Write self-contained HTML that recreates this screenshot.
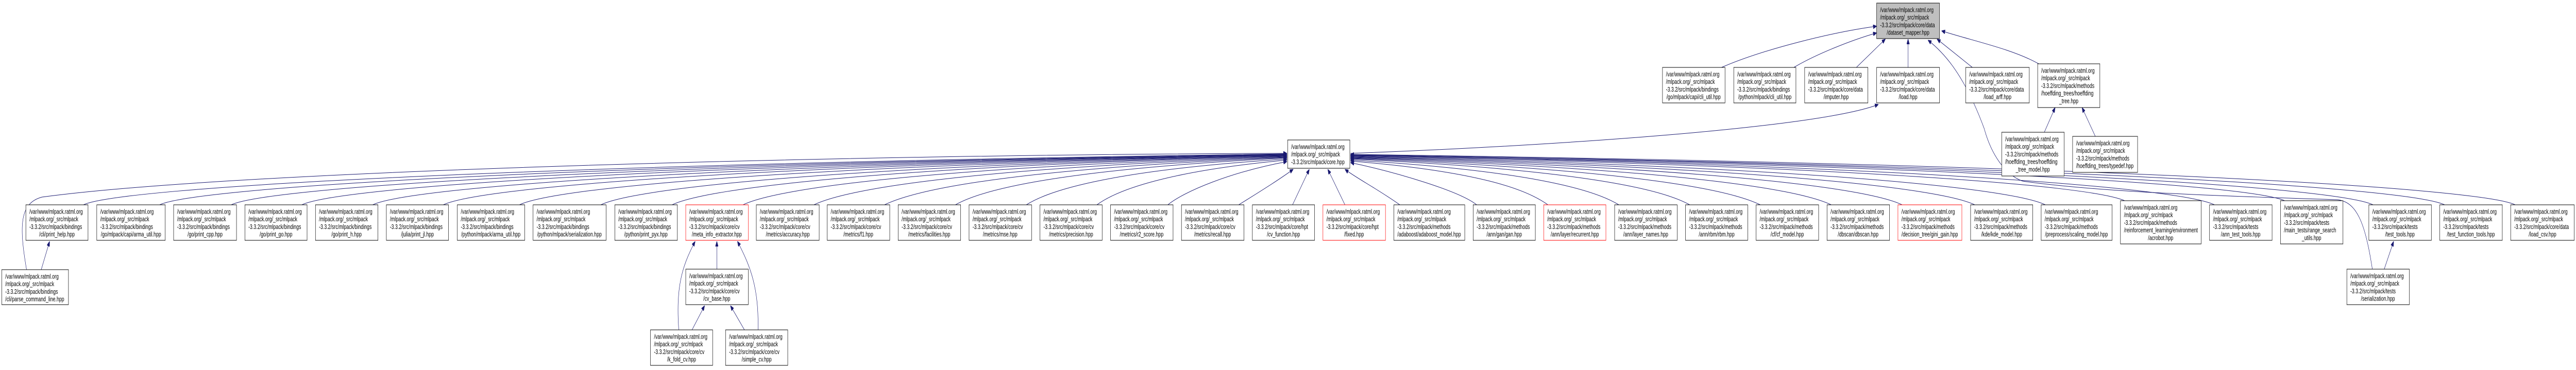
<!DOCTYPE html>
<html><head><meta charset="utf-8"><style>
html,body{margin:0;padding:0;background:#fff;width:100%;height:100%;overflow:hidden;}
svg{display:block;width:100vw;height:100vh;}
text{font-family:"Liberation Sans",Arial,sans-serif;font-size:13px;fill:#000;}
.n{fill:#fff;stroke:#000;stroke-width:1;}
.r{fill:#fff;stroke:#ff0000;stroke-width:1;}
.g{fill:#bfbfbf;stroke:#000;stroke-width:1;}
.e{fill:none;stroke:#191970;stroke-width:1;marker-end:url(#a);}
</style></head><body>
<svg viewBox="0 0 7374 719" preserveAspectRatio="none" xmlns="http://www.w3.org/2000/svg">
<defs><marker id="a" markerUnits="userSpaceOnUse" markerWidth="10" markerHeight="8" refX="10" refY="4" orient="auto"><path d="M0,0 L10,4 L0,8 z" fill="#191970" stroke="#191970"/></marker></defs>
<rect width="7374" height="719" fill="#fff"/>

<path class="e" d="M239,398 C339,365 1445,320 3684,299"/>
<path class="e" d="M457,398 C557,365 1586,320 3684,300"/>
<path class="e" d="M662,398 C762,365 1720,321 3684,300"/>
<path class="e" d="M864,398 C964,365 1851,321 3684,301"/>
<path class="e" d="M1067,398 C1167,365 1983,322 3684,301"/>
<path class="e" d="M1269,398 C1369,365 2114,322 3684,302"/>
<path class="e" d="M1487,398 C1587,365 2256,323 3684,302"/>
<path class="e" d="M1720,398 C1820,365 2407,323 3684,303"/>
<path class="e" d="M1924,398 C2024,365 2540,324 3684,303"/>
<path class="e" d="M2127,398 C2227,365 2672,325 3684,304"/>
<path class="e" d="M2330,398 C2430,365 2804,326 3684,305"/>
<path class="e" d="M2532,398 C2632,365 2935,327 3684,306"/>
<path class="e" d="M2735,398 C2820,365 3067,328 3684,307"/>
<path class="e" d="M2938,398 C3010,367 3200,330 3684,309"/>
<path class="e" d="M3140,398 C3200,368 3350,332 3684,311"/>
<path class="e" d="M3343,398 C3390,372 3520,335 3684,314"/>
<path class="e" d="M3546,398 C3600,375 3660,350 3702,329"/>
<path class="e" d="M3700,398 L3748,329"/>
<path class="e" d="M3850,398 L3801,329"/>
<path class="e" d="M4007,398 C3950,370 3880,345 3850,329"/>
<path class="e" d="M4227,398 C4180,372 4000,335 3866,316"/>
<path class="e" d="M4431,398 C4370,368 4233,333 3866,313"/>
<path class="e" d="M4634,398 C4560,367 4365,331 3866,311"/>
<path class="e" d="M4837,398 C4750,365 4497,329 3866,309"/>
<path class="e" d="M5039,398 C4939,365 4628,328 3866,308"/>
<path class="e" d="M5242,398 C5142,365 4760,327 3866,307"/>
<path class="e" d="M5445,398 C5345,365 4892,326 3866,306"/>
<path class="e" d="M5653,398 C5553,365 5028,325 3866,305"/>
<path class="e" d="M5855,398 C5755,365 5159,324 3866,304"/>
<path class="e" d="M6082,390 C5982,360 5306,323 3866,303"/>
<path class="e" d="M6339,398 C6239,365 5473,322 3866,302"/>
<path class="e" d="M6540,390 C6440,360 5604,322 3866,302"/>
<path class="e" d="M6793,398 C6693,365 5769,321 3866,301"/>
<path class="e" d="M6998,398 C6898,365 5902,321 3866,301"/>
<path class="e" d="M7200,398 C7100,365 6033,320 3866,300"/>

<path class="e" d="M4928,131 C5050,95 5250,62 5372,51"/>
<path class="e" d="M5135,131 C5200,105 5300,78 5372,64"/>
<path class="e" d="M5314,131 L5397,76"/>
<path class="e" d="M5462,131 L5462,76"/>
<path class="e" d="M5646,131 L5545,76"/>
<path class="e" d="M5836,124 C5760,95 5650,80 5558,60"/>
<path class="e" d="M6791,523 C6770,430 6745,392 6690,388 C6300,380 6000,372 5790,352 C5740,340 5700,300 5680,250 C5620,140 5560,100 5519,78"/>
<path class="e" d="M3866,298 C4400,285 5200,250 5377,203"/>
<path class="e" d="M5852,257 L5883,209"/>
<path class="e" d="M5998,265 L5960,209"/>
<path class="e" d="M76,524 C55,440 55,395 120,383 C700,330 2500,300 3684,298"/>
<path class="e" d="M118,524 L142,469"/>
<path class="e" d="M2052,523 L2052,469"/>
<path class="e" d="M1943,641 C1935,560 1950,520 1990,469"/>
<path class="e" d="M2170,641 C2172,560 2150,520 2111,469"/>
<path class="e" d="M1981,641 L2017,594"/>
<path class="e" d="M2131,641 L2091,594"/>
<path class="e" d="M6825,523 L6852,469"/>

<rect class="g" x="5372" y="6" width="180" height="69"/>
<text x="5382" y="23.5">/var/www/mlpack.ratml.org</text><text x="5382" y="38.2">/mlpack.org/_src/mlpack</text><text x="5382" y="52.9">-3.3.2/src/mlpack/core/data</text><text x="5462" y="67.6" text-anchor="middle">/dataset_mapper.hpp</text>

<rect class="n" x="4759" y="131" width="179" height="69"/>
<text x="4769" y="148.5">/var/www/mlpack.ratml.org</text><text x="4769" y="163.2">/mlpack.org/_src/mlpack</text><text x="4769" y="177.9">-3.3.2/src/mlpack/bindings</text><text x="4848" y="192.6" text-anchor="middle">/go/mlpack/capi/cli_util.hpp</text>
<rect class="n" x="4963" y="131" width="178" height="69"/>
<text x="4973" y="148.5">/var/www/mlpack.ratml.org</text><text x="4973" y="163.2">/mlpack.org/_src/mlpack</text><text x="4973" y="177.9">-3.3.2/src/mlpack/bindings</text><text x="5052" y="192.6" text-anchor="middle">/python/mlpack/cli_util.hpp</text>
<rect class="n" x="5166" y="131" width="181" height="69"/>
<text x="5176" y="148.5">/var/www/mlpack.ratml.org</text><text x="5176" y="163.2">/mlpack.org/_src/mlpack</text><text x="5176" y="177.9">-3.3.2/src/mlpack/core/data</text><text x="5256" y="192.6" text-anchor="middle">/imputer.hpp</text>
<rect class="n" x="5372" y="131" width="180" height="69"/>
<text x="5382" y="148.5">/var/www/mlpack.ratml.org</text><text x="5382" y="163.2">/mlpack.org/_src/mlpack</text><text x="5382" y="177.9">-3.3.2/src/mlpack/core/data</text><text x="5462" y="192.6" text-anchor="middle">/load.hpp</text>
<rect class="n" x="5627" y="131" width="182" height="69"/>
<text x="5637" y="148.5">/var/www/mlpack.ratml.org</text><text x="5637" y="163.2">/mlpack.org/_src/mlpack</text><text x="5637" y="177.9">-3.3.2/src/mlpack/core/data</text><text x="5718" y="192.6" text-anchor="middle">/load_arff.hpp</text>
<rect class="n" x="5833" y="124" width="178" height="85"/>
<text x="5843" y="141.5">/var/www/mlpack.ratml.org</text><text x="5843" y="156.2">/mlpack.org/_src/mlpack</text><text x="5843" y="170.9">-3.3.2/src/mlpack/methods</text><text x="5843" y="185.6">/hoeffding_trees/hoeffding</text><text x="5922" y="200.3" text-anchor="middle">_tree.hpp</text>

<rect class="n" x="3686" y="272" width="178" height="55"/>
<text x="3696" y="289.5">/var/www/mlpack.ratml.org</text><text x="3696" y="304.2">/mlpack.org/_src/mlpack</text><text x="3696" y="318.9">-3.3.2/src/mlpack/core.hpp</text>

<rect class="n" x="5730" y="257" width="179" height="85"/>
<text x="5740" y="274.5">/var/www/mlpack.ratml.org</text><text x="5740" y="289.2">/mlpack.org/_src/mlpack</text><text x="5740" y="303.9">-3.3.2/src/mlpack/methods</text><text x="5740" y="318.6">/hoeffding_trees/hoeffding</text><text x="5819" y="333.3" text-anchor="middle">_tree_model.hpp</text>
<rect class="n" x="5933" y="265" width="186" height="70"/>
<text x="5943" y="282.5">/var/www/mlpack.ratml.org</text><text x="5943" y="297.2">/mlpack.org/_src/mlpack</text><text x="5943" y="311.9">-3.3.2/src/mlpack/methods</text><text x="5943" y="326.6">/hoeffding_trees/typedef.hpp</text>

<rect class="n" x="74" y="398" width="178" height="69"/>
<text x="84" y="415.5">/var/www/mlpack.ratml.org</text><text x="84" y="430.2">/mlpack.org/_src/mlpack</text><text x="84" y="444.9">-3.3.2/src/mlpack/bindings</text><text x="163" y="459.6" text-anchor="middle">/cli/print_help.hpp</text>
<rect class="n" x="277" y="398" width="196" height="69"/>
<text x="287" y="415.5">/var/www/mlpack.ratml.org</text><text x="287" y="430.2">/mlpack.org/_src/mlpack</text><text x="287" y="444.9">-3.3.2/src/mlpack/bindings</text><text x="375" y="459.6" text-anchor="middle">/go/mlpack/capi/arma_util.hpp</text>
<rect class="n" x="497" y="398" width="180" height="69"/>
<text x="507" y="415.5">/var/www/mlpack.ratml.org</text><text x="507" y="430.2">/mlpack.org/_src/mlpack</text><text x="507" y="444.9">-3.3.2/src/mlpack/bindings</text><text x="587" y="459.6" text-anchor="middle">/go/print_cpp.hpp</text>
<rect class="n" x="701" y="398" width="178" height="69"/>
<text x="711" y="415.5">/var/www/mlpack.ratml.org</text><text x="711" y="430.2">/mlpack.org/_src/mlpack</text><text x="711" y="444.9">-3.3.2/src/mlpack/bindings</text><text x="790" y="459.6" text-anchor="middle">/go/print_go.hpp</text>
<rect class="n" x="903" y="398" width="179" height="69"/>
<text x="913" y="415.5">/var/www/mlpack.ratml.org</text><text x="913" y="430.2">/mlpack.org/_src/mlpack</text><text x="913" y="444.9">-3.3.2/src/mlpack/bindings</text><text x="992" y="459.6" text-anchor="middle">/go/print_h.hpp</text>
<rect class="n" x="1106" y="398" width="178" height="69"/>
<text x="1116" y="415.5">/var/www/mlpack.ratml.org</text><text x="1116" y="430.2">/mlpack.org/_src/mlpack</text><text x="1116" y="444.9">-3.3.2/src/mlpack/bindings</text><text x="1195" y="459.6" text-anchor="middle">/julia/print_jl.hpp</text>
<rect class="n" x="1309" y="398" width="193" height="69"/>
<text x="1319" y="415.5">/var/www/mlpack.ratml.org</text><text x="1319" y="430.2">/mlpack.org/_src/mlpack</text><text x="1319" y="444.9">-3.3.2/src/mlpack/bindings</text><text x="1405" y="459.6" text-anchor="middle">/python/mlpack/arma_util.hpp</text>
<rect class="n" x="1526" y="398" width="209" height="69"/>
<text x="1536" y="415.5">/var/www/mlpack.ratml.org</text><text x="1536" y="430.2">/mlpack.org/_src/mlpack</text><text x="1536" y="444.9">-3.3.2/src/mlpack/bindings</text><text x="1630" y="459.6" text-anchor="middle">/python/mlpack/serialization.hpp</text>
<rect class="n" x="1760" y="398" width="179" height="69"/>
<text x="1770" y="415.5">/var/www/mlpack.ratml.org</text><text x="1770" y="430.2">/mlpack.org/_src/mlpack</text><text x="1770" y="444.9">-3.3.2/src/mlpack/bindings</text><text x="1849" y="459.6" text-anchor="middle">/python/print_pyx.hpp</text>
<rect class="r" x="1963" y="398" width="179" height="69"/>
<text x="1973" y="415.5">/var/www/mlpack.ratml.org</text><text x="1973" y="430.2">/mlpack.org/_src/mlpack</text><text x="1973" y="444.9">-3.3.2/src/mlpack/core/cv</text><text x="2052" y="459.6" text-anchor="middle">/meta_info_extractor.hpp</text>
<rect class="n" x="2165" y="398" width="180" height="69"/>
<text x="2175" y="415.5">/var/www/mlpack.ratml.org</text><text x="2175" y="430.2">/mlpack.org/_src/mlpack</text><text x="2175" y="444.9">-3.3.2/src/mlpack/core/cv</text><text x="2255" y="459.6" text-anchor="middle">/metrics/accuracy.hpp</text>
<rect class="n" x="2368" y="398" width="179" height="69"/>
<text x="2378" y="415.5">/var/www/mlpack.ratml.org</text><text x="2378" y="430.2">/mlpack.org/_src/mlpack</text><text x="2378" y="444.9">-3.3.2/src/mlpack/core/cv</text><text x="2457" y="459.6" text-anchor="middle">/metrics/f1.hpp</text>
<rect class="n" x="2571" y="398" width="179" height="69"/>
<text x="2581" y="415.5">/var/www/mlpack.ratml.org</text><text x="2581" y="430.2">/mlpack.org/_src/mlpack</text><text x="2581" y="444.9">-3.3.2/src/mlpack/core/cv</text><text x="2660" y="459.6" text-anchor="middle">/metrics/facilities.hpp</text>
<rect class="n" x="2774" y="398" width="179" height="69"/>
<text x="2784" y="415.5">/var/www/mlpack.ratml.org</text><text x="2784" y="430.2">/mlpack.org/_src/mlpack</text><text x="2784" y="444.9">-3.3.2/src/mlpack/core/cv</text><text x="2863" y="459.6" text-anchor="middle">/metrics/mse.hpp</text>
<rect class="n" x="2977" y="398" width="178" height="69"/>
<text x="2987" y="415.5">/var/www/mlpack.ratml.org</text><text x="2987" y="430.2">/mlpack.org/_src/mlpack</text><text x="2987" y="444.9">-3.3.2/src/mlpack/core/cv</text><text x="3066" y="459.6" text-anchor="middle">/metrics/precision.hpp</text>
<rect class="n" x="3179" y="398" width="179" height="69"/>
<text x="3189" y="415.5">/var/www/mlpack.ratml.org</text><text x="3189" y="430.2">/mlpack.org/_src/mlpack</text><text x="3189" y="444.9">-3.3.2/src/mlpack/core/cv</text><text x="3268" y="459.6" text-anchor="middle">/metrics/r2_score.hpp</text>
<rect class="n" x="3382" y="398" width="179" height="69"/>
<text x="3392" y="415.5">/var/www/mlpack.ratml.org</text><text x="3392" y="430.2">/mlpack.org/_src/mlpack</text><text x="3392" y="444.9">-3.3.2/src/mlpack/core/cv</text><text x="3471" y="459.6" text-anchor="middle">/metrics/recall.hpp</text>
<rect class="n" x="3585" y="398" width="178" height="69"/>
<text x="3595" y="415.5">/var/www/mlpack.ratml.org</text><text x="3595" y="430.2">/mlpack.org/_src/mlpack</text><text x="3595" y="444.9">-3.3.2/src/mlpack/core/hpt</text><text x="3674" y="459.6" text-anchor="middle">/cv_function.hpp</text>
<rect class="r" x="3787" y="398" width="179" height="69"/>
<text x="3797" y="415.5">/var/www/mlpack.ratml.org</text><text x="3797" y="430.2">/mlpack.org/_src/mlpack</text><text x="3797" y="444.9">-3.3.2/src/mlpack/core/hpt</text><text x="3876" y="459.6" text-anchor="middle">/fixed.hpp</text>
<rect class="n" x="3990" y="398" width="203" height="69"/>
<text x="4000" y="415.5">/var/www/mlpack.ratml.org</text><text x="4000" y="430.2">/mlpack.org/_src/mlpack</text><text x="4000" y="444.9">-3.3.2/src/mlpack/methods</text><text x="4091" y="459.6" text-anchor="middle">/adaboost/adaboost_model.hpp</text>
<rect class="n" x="4217" y="398" width="178" height="69"/>
<text x="4227" y="415.5">/var/www/mlpack.ratml.org</text><text x="4227" y="430.2">/mlpack.org/_src/mlpack</text><text x="4227" y="444.9">-3.3.2/src/mlpack/methods</text><text x="4306" y="459.6" text-anchor="middle">/ann/gan/gan.hpp</text>
<rect class="r" x="4419" y="398" width="178" height="69"/>
<text x="4429" y="415.5">/var/www/mlpack.ratml.org</text><text x="4429" y="430.2">/mlpack.org/_src/mlpack</text><text x="4429" y="444.9">-3.3.2/src/mlpack/methods</text><text x="4508" y="459.6" text-anchor="middle">/ann/layer/recurrent.hpp</text>
<rect class="n" x="4622" y="398" width="179" height="69"/>
<text x="4632" y="415.5">/var/www/mlpack.ratml.org</text><text x="4632" y="430.2">/mlpack.org/_src/mlpack</text><text x="4632" y="444.9">-3.3.2/src/mlpack/methods</text><text x="4711" y="459.6" text-anchor="middle">/ann/layer_names.hpp</text>
<rect class="n" x="4825" y="398" width="178" height="69"/>
<text x="4835" y="415.5">/var/www/mlpack.ratml.org</text><text x="4835" y="430.2">/mlpack.org/_src/mlpack</text><text x="4835" y="444.9">-3.3.2/src/mlpack/methods</text><text x="4914" y="459.6" text-anchor="middle">/ann/rbm/rbm.hpp</text>
<rect class="n" x="5027" y="398" width="179" height="69"/>
<text x="5037" y="415.5">/var/www/mlpack.ratml.org</text><text x="5037" y="430.2">/mlpack.org/_src/mlpack</text><text x="5037" y="444.9">-3.3.2/src/mlpack/methods</text><text x="5116" y="459.6" text-anchor="middle">/cf/cf_model.hpp</text>
<rect class="n" x="5230" y="398" width="179" height="69"/>
<text x="5240" y="415.5">/var/www/mlpack.ratml.org</text><text x="5240" y="430.2">/mlpack.org/_src/mlpack</text><text x="5240" y="444.9">-3.3.2/src/mlpack/methods</text><text x="5319" y="459.6" text-anchor="middle">/dbscan/dbscan.hpp</text>
<rect class="r" x="5433" y="398" width="183" height="69"/>
<text x="5443" y="415.5">/var/www/mlpack.ratml.org</text><text x="5443" y="430.2">/mlpack.org/_src/mlpack</text><text x="5443" y="444.9">-3.3.2/src/mlpack/methods</text><text x="5524" y="459.6" text-anchor="middle">/decision_tree/gini_gain.hpp</text>
<rect class="n" x="5641" y="398" width="178" height="69"/>
<text x="5651" y="415.5">/var/www/mlpack.ratml.org</text><text x="5651" y="430.2">/mlpack.org/_src/mlpack</text><text x="5651" y="444.9">-3.3.2/src/mlpack/methods</text><text x="5730" y="459.6" text-anchor="middle">/kde/kde_model.hpp</text>
<rect class="n" x="5843" y="398" width="203" height="69"/>
<text x="5853" y="415.5">/var/www/mlpack.ratml.org</text><text x="5853" y="430.2">/mlpack.org/_src/mlpack</text><text x="5853" y="444.9">-3.3.2/src/mlpack/methods</text><text x="5944" y="459.6" text-anchor="middle">/preprocess/scaling_model.hpp</text>
<rect class="n" x="6070" y="390" width="231" height="84"/>
<text x="6080" y="407.5">/var/www/mlpack.ratml.org</text><text x="6080" y="422.2">/mlpack.org/_src/mlpack</text><text x="6080" y="436.9">-3.3.2/src/mlpack/methods</text><text x="6080" y="451.6">/reinforcement_learning/environment</text><text x="6185" y="466.3" text-anchor="middle">/acrobot.hpp</text>
<rect class="n" x="6325" y="398" width="179" height="69"/>
<text x="6335" y="415.5">/var/www/mlpack.ratml.org</text><text x="6335" y="430.2">/mlpack.org/_src/mlpack</text><text x="6335" y="444.9">-3.3.2/src/mlpack/tests</text><text x="6414" y="459.6" text-anchor="middle">/ann_test_tools.hpp</text>
<rect class="n" x="6528" y="390" width="179" height="84"/>
<text x="6538" y="407.5">/var/www/mlpack.ratml.org</text><text x="6538" y="422.2">/mlpack.org/_src/mlpack</text><text x="6538" y="436.9">-3.3.2/src/mlpack/tests</text><text x="6538" y="451.6">/main_tests/range_search</text><text x="6617" y="466.3" text-anchor="middle">_utils.hpp</text>
<rect class="n" x="6781" y="398" width="179" height="69"/>
<text x="6791" y="415.5">/var/www/mlpack.ratml.org</text><text x="6791" y="430.2">/mlpack.org/_src/mlpack</text><text x="6791" y="444.9">-3.3.2/src/mlpack/tests</text><text x="6870" y="459.6" text-anchor="middle">/test_tools.hpp</text>
<rect class="n" x="6984" y="398" width="179" height="69"/>
<text x="6994" y="415.5">/var/www/mlpack.ratml.org</text><text x="6994" y="430.2">/mlpack.org/_src/mlpack</text><text x="6994" y="444.9">-3.3.2/src/mlpack/tests</text><text x="7073" y="459.6" text-anchor="middle">/test_function_tools.hpp</text>
<rect class="n" x="7187" y="398" width="182" height="69"/>
<text x="7197" y="415.5">/var/www/mlpack.ratml.org</text><text x="7197" y="430.2">/mlpack.org/_src/mlpack</text><text x="7197" y="444.9">-3.3.2/src/mlpack/core/data</text><text x="7278" y="459.6" text-anchor="middle">/load_csv.hpp</text>

<rect class="n" x="5" y="524" width="191" height="68"/>
<text x="15" y="541.5">/var/www/mlpack.ratml.org</text><text x="15" y="556.2">/mlpack.org/_src/mlpack</text><text x="15" y="570.9">-3.3.2/src/mlpack/bindings</text><text x="15" y="585.6">/cli/parse_command_line.hpp</text>
<rect class="n" x="1963" y="523" width="179" height="69"/>
<text x="1973" y="540.5">/var/www/mlpack.ratml.org</text><text x="1973" y="555.2">/mlpack.org/_src/mlpack</text><text x="1973" y="569.9">-3.3.2/src/mlpack/core/cv</text><text x="2052" y="584.6" text-anchor="middle">/cv_base.hpp</text>
<rect class="n" x="6718" y="523" width="179" height="69"/>
<text x="6728" y="540.5">/var/www/mlpack.ratml.org</text><text x="6728" y="555.2">/mlpack.org/_src/mlpack</text><text x="6728" y="569.9">-3.3.2/src/mlpack/tests</text><text x="6807" y="584.6" text-anchor="middle">/serialization.hpp</text>

<rect class="n" x="1862" y="641" width="178" height="69"/>
<text x="1872" y="658.5">/var/www/mlpack.ratml.org</text><text x="1872" y="673.2">/mlpack.org/_src/mlpack</text><text x="1872" y="687.9">-3.3.2/src/mlpack/core/cv</text><text x="1951" y="702.6" text-anchor="middle">/k_fold_cv.hpp</text>
<rect class="n" x="2077" y="641" width="178" height="69"/>
<text x="2087" y="658.5">/var/www/mlpack.ratml.org</text><text x="2087" y="673.2">/mlpack.org/_src/mlpack</text><text x="2087" y="687.9">-3.3.2/src/mlpack/core/cv</text><text x="2166" y="702.6" text-anchor="middle">/simple_cv.hpp</text>
</svg>
</body></html>
